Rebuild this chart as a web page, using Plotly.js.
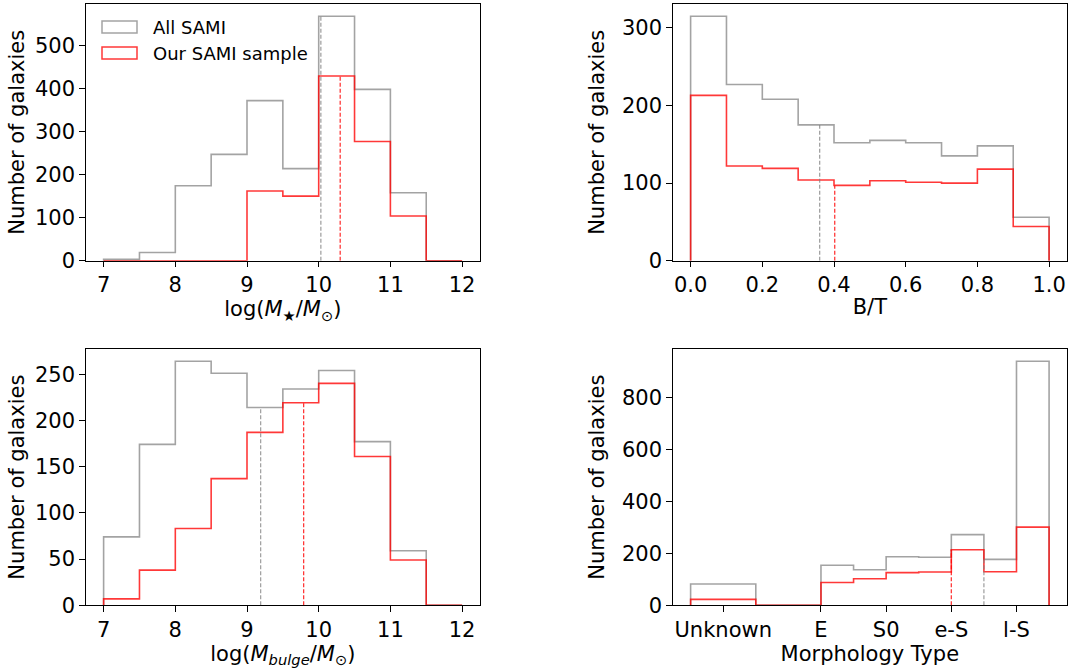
<!DOCTYPE html>
<html>
<head>
<meta charset="utf-8">
<script src="https://cdn.plot.ly/plotly-3.0.1.min.js"></script>
<style>html,body{margin:0;padding:0;background:#fff;}#chart{width:1070px;height:668px;}</style>
</head>
<body>
<div id="chart"></div>
<script>
// ---- data ----
const massEdges = [7, 7.5, 8, 8.5, 9, 9.5, 10, 10.5, 11, 11.5, 12];
const massAll   = [3, 19, 174, 247, 372, 214, 568, 398, 158, 0];
const massOur   = [0, 0, 0, 0, 162, 150, 429, 277, 104, 0];
const massMedian = [10.03, 10.30];   // [All SAMI, Our SAMI sample]

const btEdges = [0, 0.1, 0.2, 0.3, 0.4, 0.5, 0.6, 0.7, 0.8, 0.9, 1.0];
const btAll   = [315, 227, 208, 175, 152, 155, 152, 135, 148, 56];
const btOur   = [213, 122, 119, 104, 97, 103, 101, 100, 118, 44];
const btMedian = [0.36, 0.402];

const bulgeEdges = [7, 7.5, 8, 8.5, 9, 9.5, 10, 10.5, 11, 11.5, 12];
const bulgeAll   = [74, 174, 264, 251, 214, 234, 254, 177, 59, 0];
const bulgeOur   = [7, 38, 83, 137, 187, 219, 240, 161, 49, 0];
const bulgeMedian = [9.19, 9.79];

const morphEdges = [-2, -1, 0, 0.5, 1, 1.5, 2, 2.5, 3, 3.5];
const morphAll   = [82, 0, 154, 137, 187, 185, 272, 177, 940];
const morphOur   = [23, 0, 88, 102, 126, 128, 214, 129, 301];
const morphMedian = [2.5, 2.0];
const morphTickVals = [-1.5, 0, 1, 2, 3];
const morphTickText = ['Unknown', 'E', 'S0', 'e-S', 'l-S'];

const seriesNames = ['All SAMI', 'Our SAMI sample'];

// ---- styling ----
const W = 1070, H = 668;
const GRAY = 'rgba(128,128,128,0.72)';
const RED = 'rgba(255,0,0,0.78)';
const FONT = 'DejaVu Sans, sans-serif';

function stepXY(edges, counts) {
  const x = [edges[0]], y = [0];
  for (let i = 0; i < counts.length; i++) {
    x.push(edges[i], edges[i + 1]);
    y.push(counts[i], counts[i]);
  }
  x.push(edges[edges.length - 1]); y.push(0);
  return {x, y};
}
function heightAt(edges, counts, v) {
  for (let i = 0; i < counts.length; i++) {
    if (v >= edges[i] && v < edges[i + 1]) return counts[i];
  }
  return counts[counts.length - 1];
}

const panels = [
  {edges: massEdges, all: massAll, our: massOur, med: massMedian, xa: 'x', ya: 'y'},
  {edges: btEdges, all: btAll, our: btOur, med: btMedian, xa: 'x2', ya: 'y2'},
  {edges: bulgeEdges, all: bulgeAll, our: bulgeOur, med: bulgeMedian, xa: 'x3', ya: 'y3'},
  {edges: morphEdges, all: morphAll, our: morphOur, med: morphMedian, xa: 'x4', ya: 'y4'}
];

const traces = [];
const shapes = [];
panels.forEach((p) => {
  [[p.all, GRAY, 0], [p.our, RED, 1]].forEach(([c, col, k]) => {
    const s = stepXY(p.edges, c);
    traces.push({type: 'scatter', mode: 'lines', x: s.x, y: s.y, xaxis: p.xa, yaxis: p.ya,
      line: {color: col, width: 1.6}, name: seriesNames[k], showlegend: false, hoverinfo: 'skip'});
    const m = p.med[k];
    shapes.push({type: 'line', xref: p.xa, yref: p.ya, x0: m, x1: m, y0: 0,
      y1: heightAt(p.edges, c, m), line: {color: col, width: 1.3, dash: '4px,2px'}});
  });
});

// legend (matplotlib-style patch boxes) in panel 1
const px = (v) => v / W, py = (v) => 1 - v / H;
const legendItems = [[GRAY, 27], [RED, 53]];
legendItems.forEach(([col, yc]) => {
  shapes.push({type: 'rect', xref: 'paper', yref: 'paper', x0: px(102), x1: px(137),
    y0: py(yc + 6), y1: py(yc - 6), line: {color: col, width: 1.5}, fillcolor: 'rgba(0,0,0,0)'});
});
const annotations = seriesNames.map((t, k) => ({
  xref: 'paper', yref: 'paper', x: px(151), y: py(legendItems[k][1]), xanchor: 'left', yanchor: 'middle',
  text: t, showarrow: false, font: {family: FONT, size: 18, color: '#000'}
}));

function rng(edges) {
  const lo = edges[0], hi = edges[edges.length - 1], d = hi - lo;
  return [lo - 0.05 * d, hi + 0.05 * d];
}
function yrng(a, b) { return [0, 1.05 * Math.max(...a, ...b)]; }

const FS = 21;
const tickFont = {family: FONT, size: FS, color: '#000'};
const baseAx = {showline: true, mirror: true, linecolor: '#000', linewidth: 1, ticks: 'outside',
  ticklen: 5.5, tickwidth: 1, tickcolor: '#000', showgrid: false, zeroline: false, tickfont: tickFont};
const titleFont = {family: FONT, size: FS, color: '#000'};

const dx1 = [85.7 / W, 480 / W], dx2 = [672.7 / W, 1067 / W];
const dyTop = [1 - 260.7 / H, 1 - 4 / H], dyBot = [1 - 605.3 / H, 1 - 349 / H];

const yTitleL = {text: 'Number of galaxies', font: titleFont, standoff: 4};
const yTitleR = {text: 'Number of galaxies', font: titleFont, standoff: 11};

const layout = {
  width: W, height: H, margin: {l: 0, r: 0, t: 0, b: 0}, showlegend: false,
  paper_bgcolor: '#fff', plot_bgcolor: '#fff', font: {family: FONT, color: '#000'},
  xaxis: Object.assign({}, baseAx, {domain: dx1, anchor: 'y', range: rng(massEdges), dtick: 1, tick0: 7,
    title: {text: 'log(<i>M</i><sub>★</sub>/<i>M</i><sub>⊙</sub>)', font: titleFont, standoff: 2}}),
  yaxis: Object.assign({}, baseAx, {domain: dyTop, anchor: 'x', range: yrng(massAll, massOur), dtick: 100, title: yTitleL}),
  xaxis2: Object.assign({}, baseAx, {domain: dx2, anchor: 'y2', range: rng(btEdges), dtick: 0.2, tick0: 0, tickformat: '.1f',
    title: {text: 'B/T', font: titleFont, standoff: 2}}),
  yaxis2: Object.assign({}, baseAx, {domain: dyTop, anchor: 'x2', range: yrng(btAll, btOur), dtick: 100, title: yTitleR}),
  xaxis3: Object.assign({}, baseAx, {domain: dx1, anchor: 'y3', range: rng(bulgeEdges), dtick: 1, tick0: 7,
    title: {text: 'log(<i>M<sub>bulge</sub></i>/<i>M</i><sub>⊙</sub>)', font: titleFont, standoff: 0}}),
  yaxis3: Object.assign({}, baseAx, {domain: dyBot, anchor: 'x3', range: yrng(bulgeAll, bulgeOur), dtick: 50, title: yTitleL}),
  xaxis4: Object.assign({}, baseAx, {domain: dx2, anchor: 'y4', range: rng(morphEdges), tickmode: 'array',
    tickvals: morphTickVals, ticktext: morphTickText, title: {text: 'Morphology Type', font: titleFont, standoff: 0}}),
  yaxis4: Object.assign({}, baseAx, {domain: dyBot, anchor: 'x4', range: yrng(morphAll, morphOur), dtick: 200, title: yTitleR}),
  shapes: shapes, annotations: annotations
};

Plotly.newPlot('chart', traces, layout, {staticPlot: true, displayModeBar: false});
</script>
</body>
</html>
